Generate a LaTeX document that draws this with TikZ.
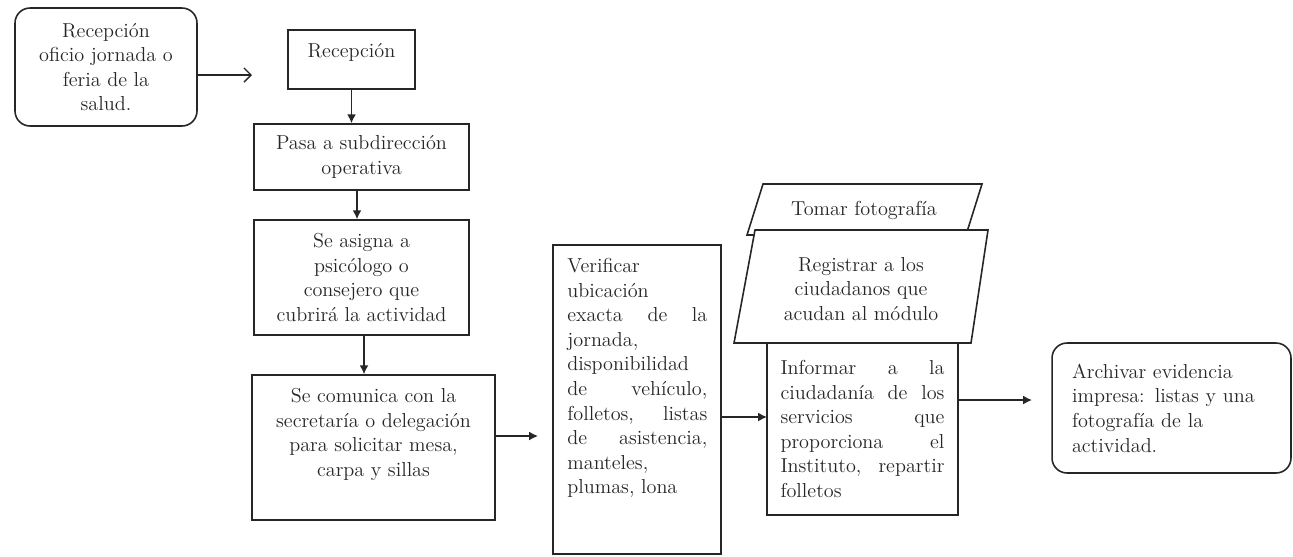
\documentclass[tikz,border=0pt]{standalone}
\usepackage{tikz}
\usetikzlibrary{arrows.meta}

\newcommand{\txtfont}{\fontsize{11.5}{14}\selectfont\tolerance=10000\hyphenpenalty=10000}
\tikzset{
  caja/.style={draw=black!85, line width=0.9pt, inner sep=0pt, align=center, text=black!85, font=\txtfont},
  redonda/.style={caja, rounded corners=0.3cm},
  texto/.style={inner sep=0pt, text=black!85, font=\txtfont},
  flecha/.style={draw=black!85, line width=0.8pt, -{Latex[length=5pt,width=5pt]}},
  flechaabierta/.style={draw=black!85, line width=0.8pt, -{Straight Barb[length=4pt,width=8pt]}},
}

\begin{document}
\begin{tikzpicture}[x=0.02cm, y=-0.02cm]
\useasboundingbox (0,0) rectangle (1293,556);

\node[redonda, minimum width=3.64cm, minimum height=2.36cm] (inicio) at (106,67) {Recepción\\oficio jornada o\\feria de la\\salud.};
\node[caja, minimum width=2.54cm, minimum height=1.18cm] (recep) at (351.5,59.5) {};
\node[texto, anchor=north] (recep-t) at (351.5,43) {Recepción};
\node[caja, minimum width=4.3cm, minimum height=1.32cm] (pasa) at (361.5,157) {Pasa a subdirección\\operativa};
\node[caja, minimum width=4.3cm, minimum height=2.3cm] (asigna) at (361.5,277.5) {Se asigna a\\psicólogo o\\consejero que\\cubrirá la actividad};
\node[caja, minimum width=4.86cm, minimum height=2.9cm] (comunica) at (373.5,447.5) {};
\node[texto, align=center, anchor=north] (comunica-t) at (373.5,388) {Se comunica con la\\secretaría o delegación\\para solicitar mesa,\\carpa y sillas};
\node[caja, minimum width=3.36cm, minimum height=6.18cm] (verif) at (637,399.5) {};
\node[texto, text width=2.8cm, align=justify, anchor=north west] (verif-t) at (567,258) {Verificar\linebreak ubicación\linebreak exacta de la\linebreak jornada,\linebreak disponibilidad\linebreak de vehículo,\linebreak folletos, listas\linebreak de asistencia,\linebreak manteles,\linebreak plumas, lona};

\draw[line width=0.9pt, draw=black!85, fill=white] (747,235) -- (763,184) -- (982,184) -- (966,235) -- cycle;
\node[texto] (tomar) at (864,210) {Tomar fotografía};
\draw[line width=0.9pt, draw=black!85, fill=white] (734,343) -- (755,230) -- (988,230) -- (971,343) -- cycle;
\node[texto, align=center] (registrar) at (861,289) {Registrar a los\\ciudadanos que\\acudan al módulo};

\node[caja, text width=3.28cm, align=justify, inner xsep=0.27cm, minimum height=3.44cm] (informar) at (862.5,429) {Informar a la\linebreak ciudadanía de los\linebreak servicios que\linebreak proporciona el\linebreak Instituto, repartir\linebreak folletos};
\node[redonda, text width=3.98cm, align=left, inner xsep=0.4cm, minimum height=2.6cm] (archivar) at (1171.5,408) {Archivar evidencia\\impresa: listas y una\\fotografía de la\\actividad.};

\coordinate (c1) at (252,75);
\coordinate (c2) at (538,436);
\coordinate (c3) at (767,417);
\coordinate (c4) at (1032,400);
\coordinate (c5) at (357,0);
\coordinate (c6) at (364,0);
\draw[flechaabierta] (inicio.east |- c1) -- (c1);
\draw[flecha] (recep.south) -- (recep.south |- pasa.north);
\draw[flecha] (c5 |- pasa.south) -- (c5 |- asigna.north);
\draw[flecha] (c6 |- asigna.south) -- (c6 |- comunica.north);
\draw[flecha] (comunica.east |- c2) -- (c2);
\draw[flecha] (verif.east |- c3) -- (c3);
\draw[flecha] (informar.east |- c4) -- (c4);

\end{tikzpicture}
\end{document}
